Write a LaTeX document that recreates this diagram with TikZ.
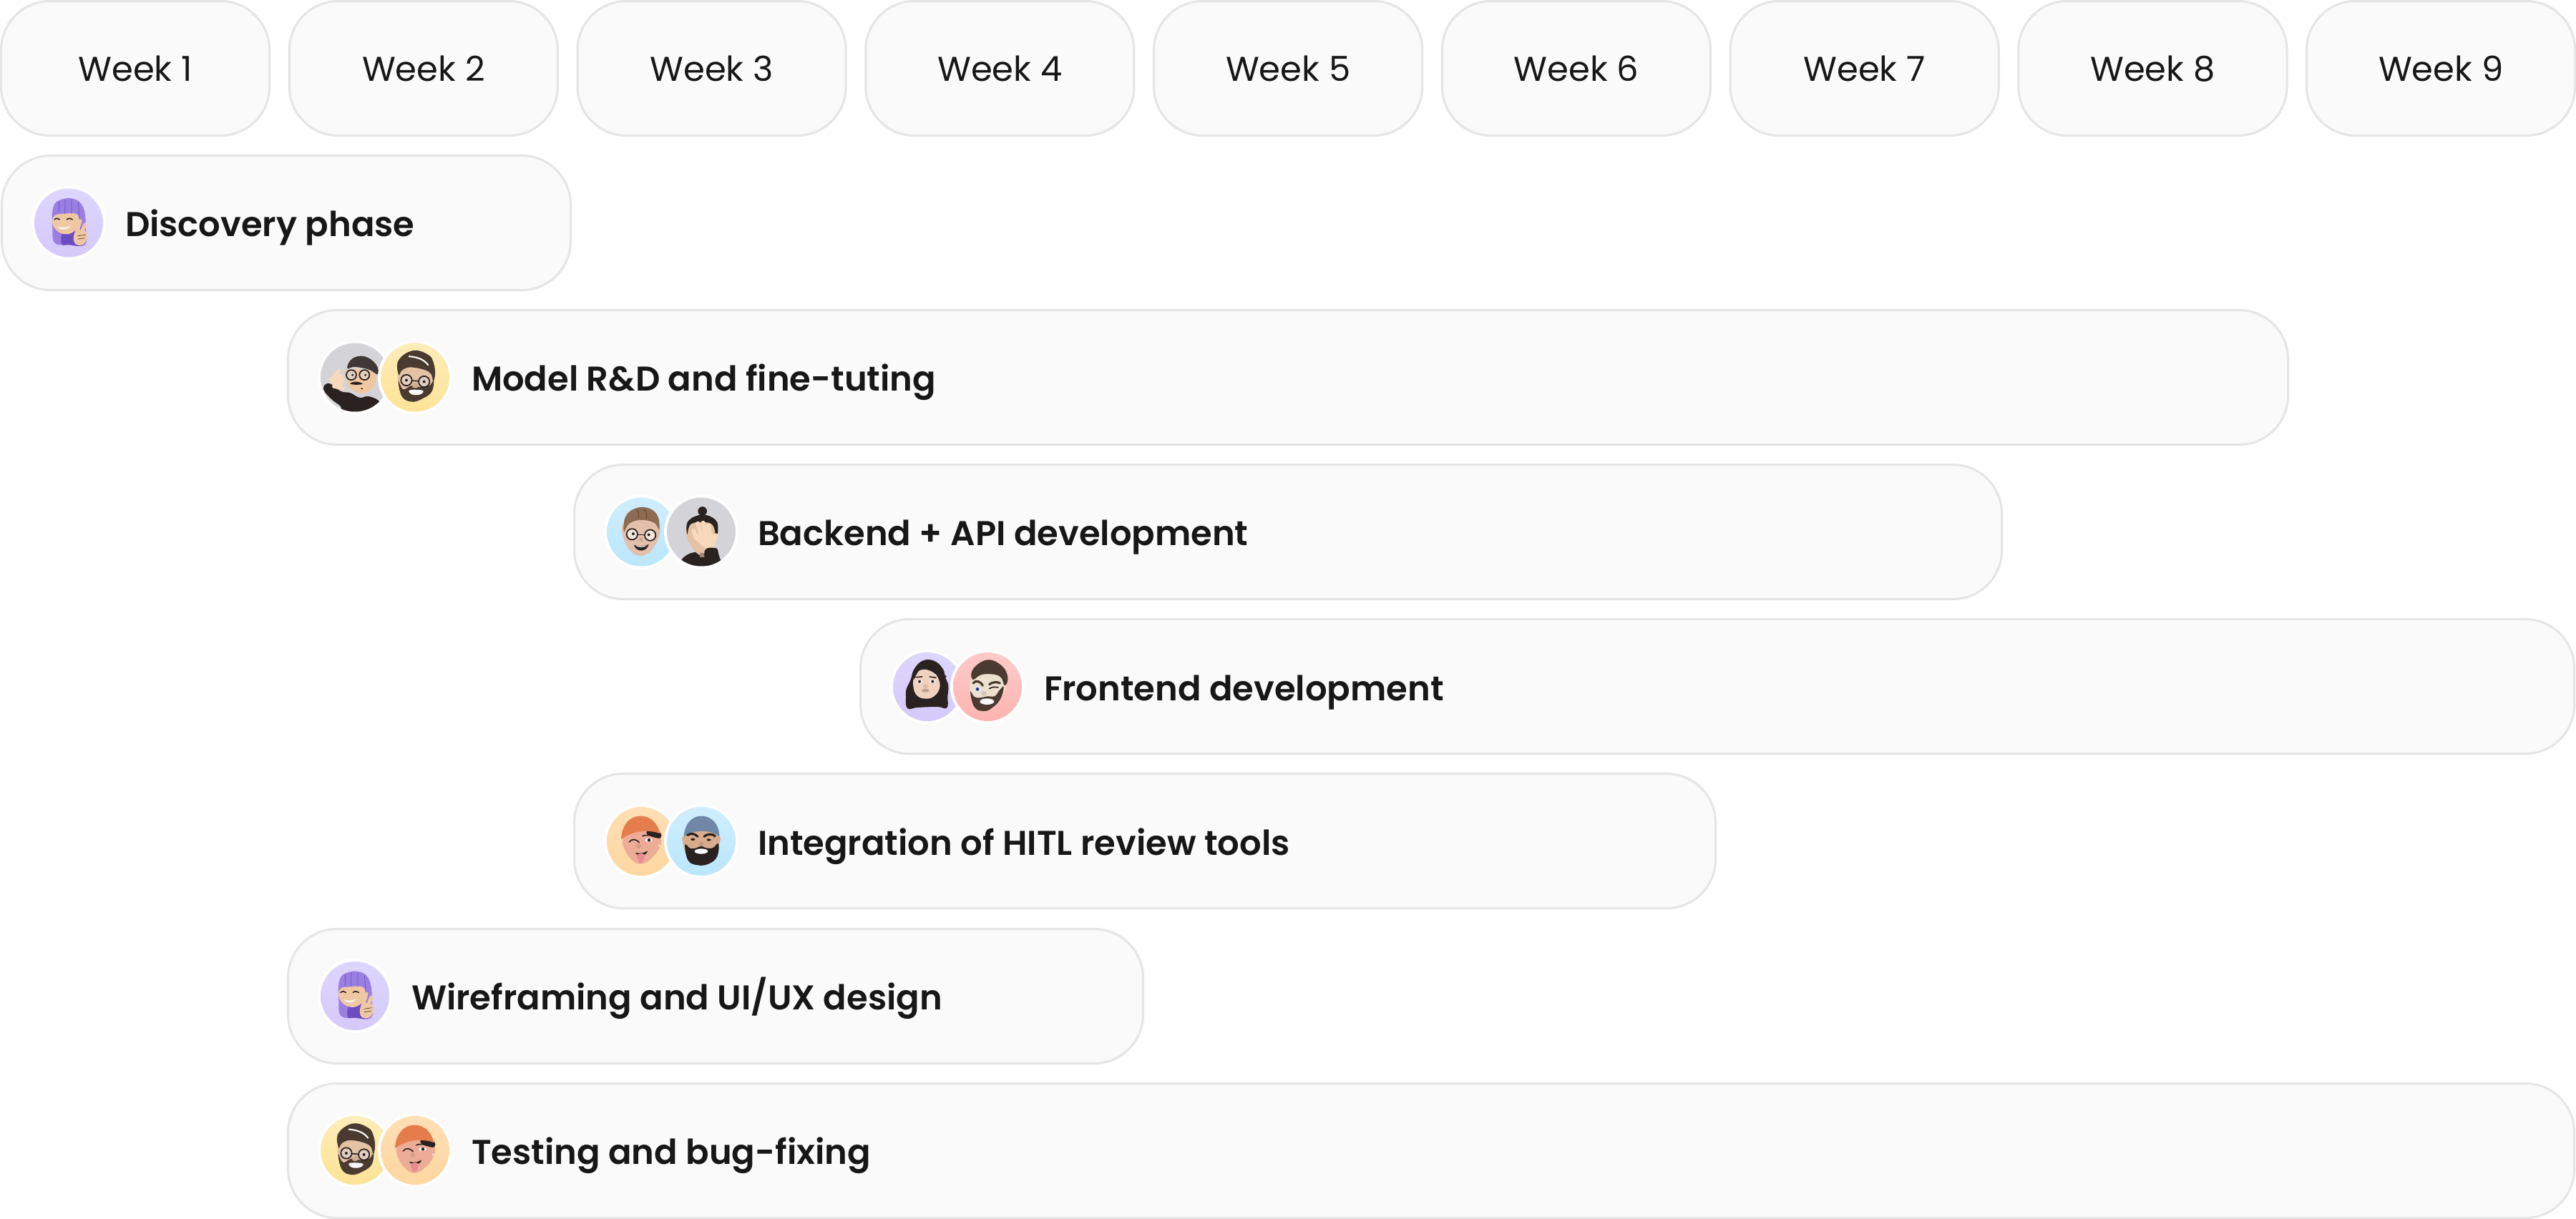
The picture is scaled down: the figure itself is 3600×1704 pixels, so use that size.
\documentclass[tikz,border=0pt]{standalone}
\usepackage{fontspec}
\setmainfont{Poppins}
\newfontfamily\semi{Poppins SemiBold}
\definecolor{ink}{HTML}{171717}
\definecolor{edge}{HTML}{E5E5E5}
\definecolor{panel}{HTML}{FAFAFA}
\definecolor{greyT}{HTML}{D4D4D8}
\definecolor{greyB}{HTML}{D4D4D8}
\definecolor{purT}{HTML}{DDD6FE}
\definecolor{purB}{HTML}{D5C9FA}
\definecolor{yelT}{HTML}{FEEDB8}
\definecolor{yelB}{HTML}{FDE397}
\definecolor{bluT}{HTML}{CFEEFE}
\definecolor{bluB}{HTML}{BAE6FD}
\definecolor{orgT}{HTML}{FFDFB5}
\definecolor{orgB}{HTML}{FED7A0}
\definecolor{redT}{HTML}{FECACA}
\definecolor{redB}{HTML}{FDB4B0}
\definecolor{hairP}{HTML}{9A7FE2}
\definecolor{hairPd}{HTML}{6D4CC2}
\definecolor{skinA}{HTML}{EFC7A2}
\definecolor{dark}{HTML}{2A2220}
\definecolor{brown}{HTML}{4A3A30}
\definecolor{skinC}{HTML}{E4C2A4}
\definecolor{skinD}{HTML}{E3C0AC}
\definecolor{hairD}{HTML}{8D6C52}
\definecolor{skinF}{HTML}{EFD2C0}
\definecolor{skinG}{HTML}{EDE0CE}
\definecolor{skinH}{HTML}{ECAC98}
\definecolor{beanieH}{HTML}{E57C4C}
\definecolor{skinI}{HTML}{D8AC8C}
\definecolor{beanieI}{HTML}{7088A8}
\definecolor{handE}{HTML}{F8D9BC}
\definecolor{lens}{HTML}{DADADA}
\definecolor{lip}{HTML}{C99B8B}
\definecolor{tongue}{HTML}{E98C92}
\tikzset{
  x=0.01cm,y=-0.01cm,
  ganttbox/.style={draw=edge,fill=panel,line width=0.85pt,rounded corners=0.685cm,inner sep=0pt,outer sep=0pt,anchor=north west,minimum height=1.88cm},
  weekbox/.style={ganttbox,minimum width=3.75cm,text=ink,text height=0.35cm,text depth=0pt,font=\fontsize{13.66}{16}\selectfont},
  tasklabel/.style={text=ink,inner sep=0pt,outer sep=0pt,anchor=base west,font=\fontsize{13.66}{17}\semi},
  ln/.style={line width=0.45pt,line cap=round,draw=dark},
  thickln/.style={line width=0.9pt,line cap=round,draw=dark},
  glass/.style={line width=0.5pt,draw=dark,fill=lens,fill opacity=0.55},
}
\newcommand\blob[2]{\fill[#1] plot[smooth cycle,tension=0.7] coordinates {#2};}
\newcommand\eyeat[2]{\fill[white] (#1,#2) ellipse[x radius=11,y radius=7];\fill[dark] (#1,#2) circle[radius=6];}
% purple-haired girl with peace sign
\newcommand\mojiA{%
  \blob{hairP}{(-66,-60)(-38,-95)(22,-100)(62,-62)(72,25)(68,92)(0,92)(-58,85)(-68,25)}
  \blob{hairPd}{(-20,35)(45,35)(58,92)(0,92)(-30,88)}
  \blob{skinA}{(-62,-28)(-20,-38)(34,-36)(42,0)(20,38)(-25,46)(-64,15)}
  \draw[hairPd,line width=0.2pt] (-40,-90)--(-42,-42) (-15,-97)--(-16,-40) (12,-97)--(12,-38) (40,-85)--(50,40);
  \draw[ln] (-60,-14)..controls(-52,-20)and(-44,-20)..(-38,-14) (-8,-14)..controls(0,-20)and(10,-20)..(16,-14);
  \fill[white!75!lens] (-46,14)..controls(-25,24)and(-5,22)..(6,10)..controls(0,32)and(-38,34)..(-46,14)--cycle;
  \draw[skinA,line width=1.5pt,line cap=round] (34,40)--(48,-8) (54,42)--(68,8);
  \blob{skinA}{(28,35)(55,30)(76,42)(72,78)(45,95)(22,78)}
  \draw[brown,line width=0.2pt] (38,55)--(72,50) (38,68)--(68,64);
}
% man with dark beanie and shaka hand
\newcommand\mojiB{%
  \blob{dark}{(-132,48)(-108,25)(-60,58)(-20,65)(20,85)(60,80)(105,108)(70,160)(-40,160)(-60,122)(-100,90)}
  \blob{skinA}{(-38,-30)(40,-32)(85,-15)(80,35)(40,66)(-8,55)(-32,20)}
  \blob{dark!90}{(-32,-38)(-12,-78)(40,-88)(88,-55)(97,-12)(60,-32)(0,-44)}
  \draw[glass] (-15,-10) circle[radius=21] (40,-10) circle[radius=21];
  \fill[dark] (-10,-10) circle[radius=5] (44,-10) circle[radius=5];
  \blob{dark}{(-20,26)(5,18)(32,27)(5,31)}
  \fill[dark] (29,47) circle[radius=4];
  \draw[handE,line width=1.5pt,line cap=round] (-85,-8)--(-68,-28) (-88,38)--(-50,46);
  \blob{handE}{(-108,8)(-84,-10)(-52,-8)(-46,20)(-60,38)(-92,32)}
}
% glasses, dark hair and beard
\newcommand\mojiC{%
  \blob{skinC}{(-66,-40)(-30,-65)(30,-62)(70,-30)(78,15)(60,60)(10,100)(-40,90)(-70,30)}
  \blob{brown}{(-68,-10)(-70,-70)(-10,-112)(55,-95)(78,-60)(84,-15)(76,15)(60,-22)(-10,-42)(-52,-32)}
  \draw[white!85!lens,line width=0.6pt,line cap=round] (-25,-88)..controls(15,-85)and(40,-72)..(55,-52);
  \blob{brown}{(-70,15)(-50,50)(-15,35)(20,40)(60,35)(78,12)(70,60)(30,90)(-15,102)(-55,80)}
  \blob{white!85!lens}{(-25,55)(10,52)(35,58)(20,72)(-12,72)}
  \draw[glass] (-36,12) circle[radius=23] (38,18) circle[radius=23];
  \fill[dark] (-36,12) circle[radius=6] (38,18) circle[radius=6];
  \draw[ln] (-13,14)--(15,16);
  \blob{skinC!85!brown}{(-8,25)(10,25)(12,42)(-10,42)}
}
% blond man with round glasses
\newcommand\mojiD{%
  \blob{skinD}{(-75,-35)(0,-60)(72,-30)(75,20)(45,75)(5,100)(-40,85)(-72,30)}
  \blob{hairD}{(-72,0)(-65,-65)(-20,-100)(35,-98)(70,-65)(75,-10)(55,-38)(0,-50)(-50,-35)}
  \draw[hairD!70!black,line width=0.3pt,line cap=round] (-20,-92)..controls(-8,-78)..(-12,-60) (12,-95)..controls(25,-80)..(22,-55);
  \draw[glass,fill=white,fill opacity=0.6] (-38,10) circle[radius=23] (38,14) circle[radius=23];
  \fill[dark] (-33,8) circle[radius=6] (32,12) circle[radius=6];
  \draw[ln] (-15,12)--(15,12);
  \fill[skinD!85!brown] (0,32) circle[radius=10];
  \fill[dark] (-30,55)..controls(-5,62)and(15,60)..(32,52)..controls(25,85)and(-20,88)..(-30,55)--cycle;
  \fill[white] (-24,57)..controls(-5,62)and(12,61)..(26,55)..controls(15,66)and(-12,68)..(-24,57)--cycle;
}
% man with bun, facepalm
\newcommand\mojiE{%
  \blob{dark}{(-85,120)(-40,88)(30,88)(85,120)(95,150)(-85,150)}
  \blob{skinC}{(-58,-30)(0,-45)(62,-30)(66,20)(30,85)(0,100)(-35,70)(-60,20)}
  \fill[brown!45!skinC] (-5,88) rectangle (18,108);
  \fill[dark] (5,-87) circle[radius=19];
  \blob{dark}{(-58,10)(-55,-45)(5,-72)(60,-50)(70,-10)(62,15)(40,-35)(-40,-35)}
  \draw[handE,line width=1.7pt,line cap=round] (-22,25)--(-32,-5) (0,15)--(-15,-35) (18,10)--(8,-38) (38,15)--(30,-28) (50,40)--(62,15);
  \blob{handE}{(-28,15)(40,5)(58,30)(48,70)(18,68)(-14,42)}
  \blob{dark}{(15,78)(60,68)(72,90)(80,150)(28,150)}
}
% dark-haired woman
\newcommand\mojiF{%
  \blob{dark}{(-18,-110)(30,-108)(65,-75)(75,-40)(88,-5)(85,40)(82,88)(40,84)(-40,87)(-84,90)(-90,40)(-88,10)(-70,-30)(-55,-75)}
  \blob{skinF}{(-56,-40)(-30,-70)(20,-65)(48,-30)(50,10)(25,42)(-10,50)(-42,38)(-58,5)}
  \blob{dark}{(-58,-30)(-45,-85)(-10,-95)(30,-85)(80,-42)(45,-48)(10,-68)(-30,-72)}
  \eyeat{-33}{-22}\eyeat{22}{-22}
  \draw[ln] (-48,-40)--(-22,-42) (10,-42)--(36,-38);
  \fill[skinF!85!brown] (-8,-2) circle[radius=10];
  \fill[lip] (-8,16) ellipse[x radius=17,y radius=7];
}
% winking man with red background
\newcommand\mojiG{%
  \blob{skinG}{(-70,-30)(-40,-65)(20,-68)(65,-35)(76,5)(50,55)(0,95)(-45,80)(-72,30)}
  \blob{brown}{(-62,-30)(-60,-75)(0,-113)(60,-88)(85,-40)(72,-5)(50,-45)(-20,-52)}
  \blob{brown}{(-72,20)(-55,42)(-30,46)(0,40)(30,40)(50,15)(68,0)(55,50)(20,88)(-15,102)(-55,85)}
  \fill[white!80!lens] (-2,62) ellipse[x radius=30,y radius=13];
  \fill[skinG!85!brown] (-15,28) circle[radius=11];
  \fill[white] (-42,10) circle[radius=11];
  \fill[blue!40!gray] (-42,10) circle[radius=8];
  \fill[dark] (-42,10) circle[radius=4];
  \draw[thickln,draw=brown] (-60,-15)..controls(-50,-28)and(-30,-25)..(-20,-5) (8,-10)..controls(20,-20)and(40,-22)..(52,-15);
  \draw[ln] (8,8)..controls(20,0)and(32,0)..(45,3);
}
% orange beanie, wink and tongue
\newcommand\mojiH{%
  \blob{skinH}{(-72,-20)(-30,-55)(30,-50)(78,-20)(80,20)(45,70)(0,95)(-42,75)(-75,20)}
  \blob{dark}{(32,-50)(78,-38)(82,-15)(60,-15)(25,-30)}
  \fill[beanieH] (-84,-8)..controls(-82,-60)and(-55,-105)..(-3,-106)..controls(45,-106)and(70,-70)..(80,-32)..controls(40,-48)and(-30,-50)..(-84,-8)--cycle;
  \draw[ln] (-50,3)..controls(-38,-12)and(-22,-10)..(-8,5);
  \fill[white] (32,-5) ellipse[x radius=15,y radius=8];
  \fill[dark] (33,-5) circle[radius=7];
  \draw[ln] (5,-22)..controls(20,-28)and(40,-26)..(52,-20);
  \fill[skinH!85!brown] (-10,20) circle[radius=10];
  \fill[dark] (-24,48)..controls(-2,52)and(12,50)..(27,40)..controls(24,62)and(-14,68)..(-24,48)--cycle;
  \blob{tongue}{(-15,56)(12,54)(10,80)(-2,92)(-13,80)}
  \fill[white] (76,18) circle[radius=4];
}
% blue beanie, black beard
\newcommand\mojiI{%
  \blob{skinI}{(-72,-25)(0,-50)(72,-25)(76,10)(55,60)(0,70)(-55,60)(-76,10)}
  \blob{dark}{(-68,15)(-45,30)(-20,28)(0,20)(20,28)(48,28)(72,10)(66,65)(30,95)(-15,100)(-55,80)}
  \fill[beanieI] (-72,-20)..controls(-72,-70)and(-40,-106)..(0,-106)..controls(45,-106)and(76,-70)..(76,-20)..controls(40,-50)and(-35,-50)..(-72,-20)--cycle;
  \fill[white!90!lens] (0,42) ellipse[x radius=28,y radius=11];
  \fill[dark] (-35,-8) ellipse[x radius=9,y radius=5] (32,-6) ellipse[x radius=9,y radius=5];
  \draw[thickln] (-58,-26)..controls(-40,-36)and(-25,-30)..(-15,-20) (12,-20)..controls(25,-32)and(45,-32)..(58,-22);
  \fill[skinI!85!brown] (0,12) circle[radius=10];
}
\newcommand\avatar[5]{% cx, cy, top colour, bottom colour, face macro
  \begin{scope}[shift={(#1,#2)},scale=1/3]
    \fill[white] (0,0) circle[radius=156];
    \shade[top color=#3,bottom color=#4] (0,0) circle[radius=144];
    \begin{scope}
      \clip (0,0) circle[radius=144];
      #5
    \end{scope}
  \end{scope}}
\newcommand\ganttbar[4]{% name, left, right, top
  \pgfmathsetmacro\barwidth{(#3-#2-3)*0.01}
  \node[ganttbox,minimum width=\barwidth cm] (#1) at (#2+1.5,#4+1.5) {};}
\begin{document}
\begin{tikzpicture}
\useasboundingbox (0,0) rectangle (3600,1704);
\fill[white] (0,0) rectangle (3600,1704);
% week headers
\foreach \i/\nm in {1/1,2/2,3/3,4/4,5/5,6/6,7/7,8/8,9/9}{
  \node[weekbox] (week\nm) at ({(\i-1)*402.75+1.5},1.5) {Week \nm};
}
% task bars
\ganttbar{discovery}{1}{799}{216}
\ganttbar{model}{401}{3199}{432}
\ganttbar{backend}{801}{2799}{648}
\ganttbar{frontend}{1201}{3599}{864}
\ganttbar{integration}{801}{2399}{1080}
\ganttbar{wireframing}{401}{1599}{1297}
\ganttbar{testing}{401}{3599}{1513}
% avatars
\avatar{96}{311.5}{purT}{purB}{\mojiA}
\avatar{496}{527.5}{greyT}{greyB}{\mojiB}
\avatar{580}{527.5}{yelT}{yelB}{\mojiC}
\avatar{896}{743.5}{bluT}{bluB}{\mojiD}
\avatar{980}{743.5}{greyT}{greyB}{\mojiE}
\avatar{1296}{960}{purT}{purB}{\mojiF}
\avatar{1380}{960}{redT}{redB}{\mojiG}
\avatar{896}{1176}{orgT}{orgB}{\mojiH}
\avatar{980}{1176}{bluT}{bluB}{\mojiI}
\avatar{496}{1392}{purT}{purB}{\mojiA}
\avatar{496}{1608}{yelT}{yelB}{\mojiC}
\avatar{580}{1608}{orgT}{orgB}{\mojiH}
% labels
\node[tasklabel] (discoveryT) at (175,331) {Discovery phase};
\node[tasklabel] (modelT) at (659,547) {Model R\&D and fine-tuting};
\node[tasklabel] (backendT) at (1059,763) {Backend + API development};
\node[tasklabel] (frontendT) at (1459,979) {Frontend development};
\node[tasklabel] (integrationT) at (1059,1195) {Integration of HITL review tools};
\node[tasklabel] (wireframingT) at (575,1411) {Wireframing and UI/UX design};
\node[tasklabel] (testingT) at (659,1627) {Testing and bug-fixing};
\end{tikzpicture}
\end{document}
